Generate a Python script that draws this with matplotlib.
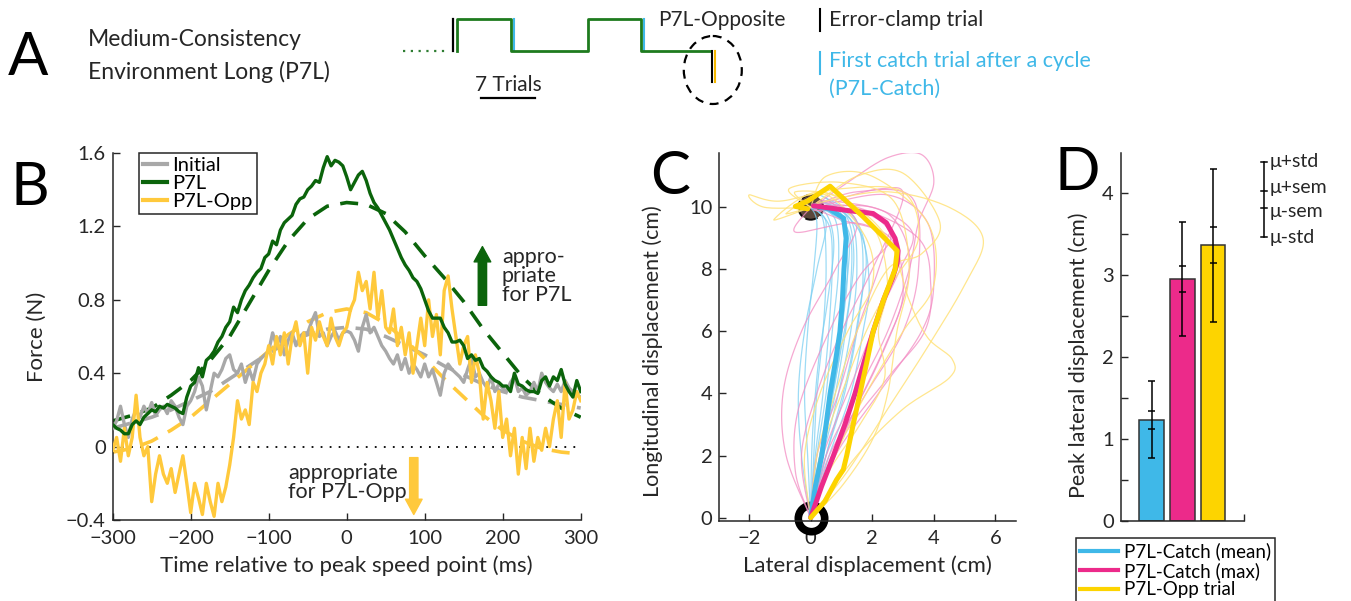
import numpy as np
import matplotlib
matplotlib.use('Agg')
import matplotlib.pyplot as plt
from matplotlib.patches import Ellipse, Circle
from matplotlib.lines import Line2D

plt.rcParams['font.family'] = ['Lato', 'DejaVu Sans']
plt.rcParams['axes.unicode_minus'] = True

# ---------------- DATA ----------------
# Panel B: force traces, 5 ms resolution, -300..300 ms
time_ms = np.arange(-300, 301, 5)
force_initial = [
    0.10, 0.14, 0.22, 0.12, 0.05, 0.15, 0.20, 0.16, 0.22, 0.18,
    0.24, 0.17, 0.20, 0.22, 0.18, 0.25, 0.22, 0.16, 0.12, 0.22,
    0.25, 0.30, 0.38, 0.33, 0.20, 0.30, 0.40, 0.38, 0.42, 0.48,
    0.50, 0.42, 0.40, 0.45, 0.35, 0.42, 0.36, 0.45, 0.48, 0.50,
    0.52, 0.62, 0.55, 0.60, 0.50, 0.58, 0.62, 0.55, 0.60, 0.62,
    0.62, 0.68, 0.73, 0.60, 0.62, 0.55, 0.60, 0.63, 0.58, 0.62,
    0.63, 0.62, 0.58, 0.52, 0.65, 0.72, 0.62, 0.65, 0.60, 0.55,
    0.52, 0.48, 0.45, 0.50, 0.42, 0.48, 0.40, 0.45, 0.42, 0.38,
    0.45, 0.38, 0.42, 0.35, 0.28, 0.40, 0.45, 0.42, 0.40, 0.38,
    0.35, 0.42, 0.48, 0.38, 0.40, 0.35, 0.32, 0.38, 0.30, 0.34,
    0.32, 0.30, 0.35, 0.38, 0.30, 0.32, 0.28, 0.30, 0.35, 0.30,
    0.40, 0.35, 0.32, 0.30, 0.34, 0.30, 0.36, 0.32, 0.30, 0.28,
    0.27]
force_p7l = [
    0.12, 0.10, 0.09, 0.07, 0.07, 0.12, 0.14, 0.12, 0.16, 0.18,
    0.20, 0.19, 0.22, 0.21, 0.23, 0.22, 0.21, 0.19, 0.18, 0.27,
    0.33, 0.35, 0.43, 0.38, 0.47, 0.49, 0.52, 0.57, 0.60, 0.65,
    0.68, 0.76, 0.73, 0.80, 0.85, 0.88, 0.92, 0.95, 0.97, 1.03,
    1.05, 1.12, 1.10, 1.18, 1.22, 1.24, 1.26, 1.32, 1.35, 1.36,
    1.40, 1.42, 1.45, 1.44, 1.52, 1.58, 1.53, 1.56, 1.55, 1.53,
    1.47, 1.40, 1.44, 1.48, 1.50, 1.45, 1.38, 1.33, 1.30, 1.26,
    1.22, 1.18, 1.13, 1.08, 1.03, 0.99, 0.96, 0.92, 0.90, 0.86,
    0.80, 0.74, 0.70, 0.70, 0.70, 0.65, 0.62, 0.57, 0.57, 0.58,
    0.55, 0.48, 0.50, 0.47, 0.48, 0.43, 0.41, 0.38, 0.36, 0.35,
    0.33, 0.33, 0.30, 0.40, 0.34, 0.33, 0.31, 0.30, 0.30, 0.29,
    0.36, 0.38, 0.33, 0.38, 0.36, 0.42, 0.34, 0.30, 0.27, 0.36,
    0.30]
force_opp = [
    -0.02, 0.05, -0.08, 0.10, -0.05, 0.05, 0.28, 0.05, -0.05, 0.00,
    -0.30, -0.15, -0.05, -0.15, -0.20, -0.12, -0.25, -0.15, -0.05, -0.20,
    -0.36, -0.20, -0.28, -0.37, -0.20, -0.30, -0.38, -0.20, -0.30, -0.22,
    -0.10, 0.05, 0.25, 0.15, 0.20, 0.12, 0.35, 0.30, 0.40, 0.45,
    0.55, 0.45, 0.60, 0.50, 0.62, 0.45, 0.60, 0.68, 0.55, 0.62,
    0.40, 0.65, 0.58, 0.68, 0.60, 0.55, 0.70, 0.60, 0.55, 0.62,
    0.65, 0.75, 0.80, 0.95, 0.85, 0.90, 0.75, 0.95, 0.70, 0.85,
    0.65, 0.62, 0.75, 0.55, 0.65, 0.50, 0.62, 0.40, 0.55, 0.70,
    0.55, 0.80, 0.60, 0.72, 0.50, 0.85, 0.93, 0.75, 0.60, 0.45,
    0.55, 0.60, 0.35, 0.50, 0.40, 0.15, 0.35, 0.25, 0.10, 0.30,
    0.05, 0.15, -0.05, 0.10, -0.15, 0.05, -0.12, 0.10, -0.08, 0.05,
    -0.02, 0.10, 0.00, 0.15, 0.25, 0.05, 0.35, 0.15, 0.20, 0.30,
    0.25]
# model fits (dashed), 25 ms resolution
time_fit = np.arange(-300, 301, 25)
fit_initial = [0.10, 0.13, 0.16, 0.20, 0.25, 0.30, 0.37, 0.44, 0.51, 0.57, 0.61, 0.64, 0.65,
               0.64, 0.60, 0.55, 0.50, 0.44, 0.39, 0.34, 0.30, 0.27, 0.25, 0.23, 0.21]
fit_p7l = [0.14, 0.17, 0.21, 0.28, 0.36, 0.47, 0.60, 0.78, 0.96, 1.12, 1.24, 1.31, 1.33,
           1.32, 1.27, 1.17, 1.04, 0.92, 0.79, 0.64, 0.51, 0.38, 0.28, 0.21, 0.16]
fit_opp = [-0.03, -0.01, 0.03, 0.09, 0.16, 0.25, 0.34, 0.43, 0.52, 0.61, 0.68, 0.73, 0.75,
           0.73, 0.67, 0.58, 0.48, 0.37, 0.27, 0.17, 0.09, 0.03, -0.01, -0.03, -0.04]
legend_b = ['Initial', 'P7L', 'P7L-Opp']

# Panel C: hand trajectories (lateral x, longitudinal y) in cm
traj_catch_mean = [(0, 0), (0.15, 1), (0.36, 2), (0.5, 3), (0.63, 4), (0.8, 5), (0.95, 6), (1.03, 7),
                   (1.08, 8), (1.15, 9), (1.07, 9.65), (0.6, 9.95), (0.1, 10.05)]
traj_catch_max = [(0, 0), (0.35, 1), (0.74, 2), (1.11, 3), (1.44, 4), (1.73, 5), (2.03, 6), (2.36, 7),
                  (2.65, 7.7), (2.81, 8.2), (2.84, 8.6), (2.74, 9.0), (2.46, 9.5), (2.03, 9.8),
                  (1.17, 9.9), (0.09, 10.05)]
traj_opp = [(0, 0), (0.46, 0.52), (0.84, 1.22), (1.06, 1.55), (1.17, 2.0), (1.38, 3), (1.6, 4), (1.82, 5),
            (2.03, 6), (2.36, 7), (2.74, 8), (2.81, 8.6), (1.7, 9.7), (0.63, 10.68), (-0.1, 10.2),
            (-0.5, 10.03), (-0.1, 9.95)]
trials_catch = [
    [(0, 0), (-0.1, 2), (-0.2, 4), (-0.1, 6), (0.1, 8), (0.2, 9.5), (0, 10)],
    [(0, 0), (0.1, 2), (0.2, 4), (0.4, 6), (0.5, 8), (0.4, 9.6), (0, 10)],
    [(0, 0), (0.2, 2), (0.5, 4), (0.7, 6), (0.9, 8), (0.8, 9.6), (0.1, 10.1)],
    [(0, 0), (0.3, 2), (0.7, 4), (1.0, 6), (1.2, 8), (1.0, 9.6), (0.2, 10.1)],
    [(0, 0), (0.4, 2), (0.9, 4), (1.3, 6), (1.5, 8), (1.3, 9.6), (0.3, 10.2)],
    [(0, 0), (0.5, 2), (1.1, 4), (1.5, 6), (1.7, 7.8), (1.5, 9.5), (0.4, 10.2)],
    [(0, 0), (0.3, 2), (0.8, 4), (1.2, 6.5), (1.4, 8.5), (1.1, 9.8), (0.2, 10.0)],
    [(0, 0), (-0.3, 2), (-0.4, 4), (-0.2, 6), (0.2, 8), (0.5, 9.5), (0, 10)],
    [(0, 0), (0.6, 2), (1.3, 4), (1.7, 6), (1.9, 7.5), (1.6, 9.2), (0.5, 10.3)],
    [(0, 0), (0.2, 1.5), (0.6, 3.5), (1.0, 5.5), (1.3, 7.5), (1.2, 9.3), (0.1, 10.1)],
    [(0, 0), (0.45, 2.5), (0.9, 5), (1.1, 7), (1.25, 8.8), (0.9, 9.9), (0.0, 10.0)],
    [(0, 0), (0.05, 2.5), (0.25, 5), (0.55, 7), (0.75, 8.8), (0.5, 9.8), (0.0, 10.0)],
    [(0, 0), (0.55, 2.2), (1.2, 4.6), (1.6, 6.8), (1.8, 8.4), (1.4, 9.7), (0.3, 10.4)],
    [(0, 0), (0.15, 2.0), (0.4, 4.0), (0.6, 6.2), (0.7, 8.2), (0.6, 9.4), (0.1, 10.0)],
]
trials_catch_max = [
    [(0, 0), (-0.8, 2), (-0.9, 4), (-0.3, 6), (0.8, 8), (1.5, 9.5), (0.5, 10.2), (0, 10)],
    [(0, 0), (0.3, 1), (1.2, 3), (2.2, 5), (3.0, 7), (3.2, 8.5), (2.5, 9.8), (0.8, 10.2)],
    [(0, 0), (0.6, 2), (1.8, 4), (3.0, 6), (3.5, 8), (3.3, 10.3), (1.5, 10.5), (0, 10)],
    [(0, 0), (0.8, 2), (2.2, 4), (3.6, 6), (4.0, 7.5), (3.8, 9.5), (2.5, 10.4), (0.5, 10.1)],
    [(0, 0), (0.5, 2), (1.5, 4), (2.5, 6), (3.2, 8), (3.5, 9.5), (4.0, 10.8), (3.6, 11.7), (2.5, 11.6),
     (1.2, 10.8), (0.2, 10.1)],
    [(0, 0), (0.2, 2), (0.9, 4), (1.5, 6), (2.2, 8), (2.4, 9.0), (1.4, 9.5), (-0.5, 9.2), (0, 10)],
    [(0, 0), (1.0, 2.5), (2.5, 4.5), (3.7, 6), (3.9, 7.5), (3.5, 9.0), (1.5, 10.0), (0, 10)],
    [(0, 0), (-0.3, 2), (0.2, 4), (1.0, 6), (2.0, 8), (3.0, 10.3), (2.3, 10.6), (0.3, 10.1)],
    [(0, 0), (-0.5, 1.5), (-0.4, 3.5), (0.6, 6), (1.6, 7.8), (2.6, 9.0), (1.8, 9.8), (0.1, 9.9)],
    [(0, 0), (0.4, 2), (1.4, 4.5), (2.2, 6.5), (2.9, 8.0), (3.3, 9.2), (2.0, 10.0), (0.2, 10.0)],
    [(0, 0), (0.7, 1.8), (1.6, 3.8), (2.4, 5.5), (3.0, 7.2), (2.6, 9.0), (1.0, 9.6), (0.0, 10.0)],
]
trials_opp = [
    [(0, 0), (1.2, 1.5), (2.5, 3.5), (3.8, 5.5), (5.0, 7.5), (5.6, 9.0), (4.5, 10.0), (2.5, 10.5),
     (0.5, 10.2), (0, 10)],
    [(0, 0), (1.5, 2), (3.0, 3.5), (4.5, 4.5), (4.6, 5.1), (3.8, 5.8), (3.2, 7), (2.5, 9), (1.0, 10.3),
     (-0.5, 10.5), (0, 10)],
    [(0, 0), (0.8, 2), (1.8, 4), (3.0, 6), (4.0, 7.5), (3.8, 9.5), (2.0, 11.0), (0.5, 11.0), (0, 10)],
    [(0, 0), (0.3, 2), (1.0, 4), (1.8, 6), (2.6, 7.5), (3.5, 9.0), (3.0, 10.5), (1.0, 10.6), (-1.0, 10.2),
     (-2.0, 10.4), (-1.5, 10.0), (0, 10)],
    [(0, 0), (0.2, 2), (0.8, 4), (1.5, 6), (2.5, 8), (3.6, 8.5), (4.2, 9.5), (3.0, 11.1), (1.5, 11.0),
     (0, 10)],
    [(0, 0), (-0.2, 2), (0.3, 4), (1.2, 6), (2.0, 7.5), (1.8, 9.0), (0.5, 10.4), (-0.8, 9.8), (0, 10)],
    [(0, 0), (1.0, 1.0), (2.0, 2.5), (2.5, 4), (2.8, 6), (3.2, 8), (2.7, 10.2), (1.0, 10.8), (-0.7, 10.6),
     (0.0, 10.0)],
    [(0, 0), (0.6, 1.5), (1.6, 3.0), (2.4, 4.5), (2.2, 6.0), (2.5, 7.5), (2.0, 9.4), (0.3, 10.5),
     (-1.2, 9.6), (0, 10)],
]

# Panel D: peak lateral displacement
bar_labels = ['P7L-Catch (mean)', 'P7L-Catch (max)', 'P7L-Opp trial']
bar_means = [1.23, 2.95, 3.36]
bar_sem_lo = [1.12, 2.79, 3.14]
bar_sem_hi = [1.34, 3.11, 3.58]
bar_std_lo = [0.77, 2.25, 2.43]
bar_std_hi = [1.70, 3.64, 4.29]

# Panel A: trial schedule (blocks: length in trials, field level)
block_lengths = [7, 10, 7, 9]
block_levels = [1, 0, 1, 0]

# ---------------- STYLE ----------------
C_GRAY = '#A8A8A8'
C_GREEN = '#0B640B'
C_YEL = '#FFC93C'
C_CYAN = '#3FB8E8'
C_MAG = '#EC2A8A'
C_YEL2 = '#FDD400'
TXT = '#262626'
FS_TICK = 14.5
FS_LAB = 16
FS_ANN = 15.5

W, H = 1351, 601
fig = plt.figure(figsize=(W / 100, H / 100), dpi=100)


def fax(l, b, r, t):
    return fig.add_axes([l / W, 1 - b / H, (r - l) / W, (b - t) / H])


def style_axes(ax):
    for s in ['top', 'right']:
        ax.spines[s].set_visible(False)
    for s in ['left', 'bottom']:
        ax.spines[s].set_color('#262626')
        ax.spines[s].set_linewidth(1.1)
    ax.tick_params(direction='in', length=5, width=1, labelsize=FS_TICK, colors=TXT)
    ax.tick_params(axis='x', pad=7)
    ax.tick_params(axis='y', pad=5)


def smooth(pts, n=16):
    P = np.array(pts, float)
    P = np.vstack([P[0], P, P[-1]])
    out = []
    t = np.linspace(0, 1, n, endpoint=False)[:, None]
    for i in range(1, len(P) - 2):
        p0, p1, p2, p3 = P[i - 1], P[i], P[i + 1], P[i + 2]
        out.append(0.5 * ((2 * p1) + (-p0 + p2) * t + (2 * p0 - 5 * p1 + 4 * p2 - p3) * t ** 2
                          + (-p0 + 3 * p1 - 3 * p2 + p3) * t ** 3))
    out.append(P[-2][None, :])
    return np.vstack(out)


# ---------------- PANEL B ----------------
axB = fax(112.7, 520, 580.7, 153)
style_axes(axB)
axB.set_xlim(-300, 300)
axB.set_ylim(-0.4, 1.6)
axB.set_xticks([-300, -200, -100, 0, 100, 200, 300])
axB.set_yticks([-0.4, 0, 0.4, 0.8, 1.2, 1.6])
axB.set_yticklabels(['\u22120.4', '0', '0.4', '0.8', '1.2', '1.6'])
axB.set_xticklabels(['\u2212300', '\u2212200', '\u2212100', '0', '100', '200', '300'])
axB.axhline(0, color='k', lw=1.3, ls=(0, (1, 4)), zorder=1)
dash = (0, (5, 3.2))
axB.plot(time_fit, fit_initial, color=C_GRAY, lw=2.6, ls=dash, zorder=2)
axB.plot(time_ms, force_initial, color=C_GRAY, lw=2.4, zorder=3)
axB.plot(time_fit, fit_opp, color=C_YEL, lw=2.6, ls=dash, zorder=2)
axB.plot(time_ms, force_opp, color=C_YEL, lw=2.4, zorder=4)
axB.plot(time_fit, fit_p7l, color=C_GREEN, lw=2.6, ls=dash, zorder=2)
axB.plot(time_ms, force_p7l, color=C_GREEN, lw=2.4, zorder=5)
axB.set_xlabel('Time relative to peak speed point (ms)', fontsize=FS_LAB, color=TXT, labelpad=6)
axB.set_ylabel('Force (N)', fontsize=FS_LAB, color=TXT, labelpad=14)
hB = [Line2D([], [], color=c, lw=3) for c in (C_GRAY, C_GREEN, C_YEL)]
lgB = axB.legend(hB, legend_b, loc='upper left', bbox_to_anchor=(0.056, 1.0), borderaxespad=0,
                 fancybox=False, edgecolor='#262626', fontsize=FS_TICK, handlelength=1.2,
                 handletextpad=0.25, labelspacing=0.05, borderpad=0.2, framealpha=1)
lgB.get_frame().set_linewidth(1.1)
axB.annotate('', xy=(174, 1.09), xytext=(174, 0.77),
             arrowprops=dict(arrowstyle='simple,head_width=0.6,head_length=0.55,tail_width=0.3',
                             color=C_GREEN, mutation_scale=20, shrinkA=0, shrinkB=0))
axB.text(199, 0.93, 'appro-\npriate\nfor P7L', fontsize=FS_ANN, color=TXT, ha='left', va='center',
         linespacing=0.95)
axB.annotate('', xy=(86, -0.37), xytext=(86, -0.06),
             arrowprops=dict(arrowstyle='simple,head_width=0.6,head_length=0.55,tail_width=0.3',
                             color=C_YEL, mutation_scale=20, shrinkA=0, shrinkB=0))
axB.text(-75, -0.195, 'appropriate\nfor P7L-Opp', fontsize=FS_ANN, color=TXT, ha='left', va='center',
         linespacing=0.95)

# ---------------- PANEL C ----------------
axC = fax(719.3, 520.7, 1016, 152.7)
style_axes(axC)
axC.set_xlim(-2.97, 6.67)
axC.set_ylim(-0.1, 11.76)
axC.set_xticks([-2, 0, 2, 4, 6])
axC.set_yticks([0, 2, 4, 6, 8, 10])
axC.set_xticklabels(['\u22122', '0', '2', '4', '6'])
axC.set_xlabel('Lateral displacement (cm)', fontsize=FS_LAB, color=TXT, labelpad=6)
axC.set_ylabel('Longitudinal displacement (cm)', fontsize=15.5, color=TXT, labelpad=8)
axC.yaxis.set_label_coords(-0.19, 0.46)
axC.plot([0], [0], 'o', ms=19, mfc='none', mec='k', mew=5.5, zorder=2, clip_on=False)
axC.add_patch(Circle((0, 10), 0.4, facecolor='#4a3326', edgecolor='k', ls='--', lw=1.4,
                     alpha=0.9, zorder=2))
for tr in trials_catch:
    s = smooth(tr)
    axC.plot(s[:, 0], s[:, 1], color='#7CCFF2', lw=0.9, alpha=0.75, zorder=3)
for tr in trials_catch_max:
    s = smooth(tr)
    axC.plot(s[:, 0], s[:, 1], color='#F38CC3', lw=0.9, alpha=0.75, zorder=3)
for tr in trials_opp:
    s = smooth(tr)
    axC.plot(s[:, 0], s[:, 1], color='#FFE27A', lw=0.9, alpha=0.85, zorder=3)
for tr, c in ((traj_catch_mean, C_CYAN), (traj_catch_max, C_MAG), (traj_opp, C_YEL2)):
    a = np.array(tr)
    axC.plot(a[:, 0], a[:, 1], color=c, lw=3.6, zorder=5, solid_joinstyle='round',
             solid_capstyle='round')

# ---------------- PANEL D ----------------
axD = fax(1120.7, 520.7, 1244, 152.7)
style_axes(axD)
axD.set_xlim(0, 4)
axD.set_ylim(0, 4.49)
axD.set_yticks([0, 1, 2, 3, 4])
axD.set_yticks([0.5, 1.5, 2.5, 3.5], minor=True)
axD.tick_params(which='minor', direction='in', length=5, width=1, colors=TXT)
axD.set_xticks([4])
axD.set_xticklabels([''])
xs = [1, 2, 3]
for x, m, c in zip(xs, bar_means, (C_CYAN, C_MAG, C_YEL2)):
    axD.bar(x, m, width=0.79, color=c, edgecolor='#333333', lw=1.1, zorder=2)
axD.vlines(xs, bar_std_lo, bar_std_hi, color='k', lw=1.1, zorder=4)
axD.hlines(bar_std_lo + bar_std_hi, [x - 0.11 for x in xs * 2], [x + 0.11 for x in xs * 2],
           color='k', lw=1.1, zorder=4)
axD.hlines(bar_sem_lo + bar_sem_hi, [x - 0.11 for x in xs * 2], [x + 0.11 for x in xs * 2],
           color='k', lw=1.1, zorder=4)
axD.set_ylabel('Peak lateral displacement (cm)', fontsize=15.5, color=TXT, labelpad=10)
axD.yaxis.set_label_coords(-0.26, 0.45)
hD = [Line2D([], [], color=c, lw=3) for c in (C_CYAN, C_MAG, C_YEL2)]
lgD = axD.legend(hD, bar_labels, loc='upper left', bbox_to_anchor=(1075.7 / W, 1 - 538 / H),
                 bbox_transform=fig.transFigure, borderaxespad=0, fancybox=False,
                 edgecolor='#262626', fontsize=13.5, handlelength=2.0, handletextpad=0.3,
                 labelspacing=0.08, borderpad=0.25, framealpha=1)
lgD.get_frame().set_linewidth(1.1)

# ---------------- OVERLAY (panel A, letters, key) ----------------
axO = fig.add_axes([0, 0, 1, 1], zorder=-1)
axO.set_xlim(0, W)
axO.set_ylim(H, 0)
axO.axis('off')

for lab, x, y in (('A', 8, 75), ('B', 10, 205), ('C', 650, 194), ('D', 1055, 190)):
    axO.text(x, y, lab, fontsize=43, color='k', va='baseline', ha='left')

axO.text(88, 39, 'Medium-Consistency', fontsize=16.5, color=TXT, va='center')
axO.text(88, 72, 'Environment Long (P7L)', fontsize=16.5, color=TXT, va='center')

# schedule
trial_px = 7.7
x0, y_hi, y_lo = 456.7, 18.5, 50.5
axO.plot([403, 449], [y_lo, y_lo], color='#2E7D32', lw=1.6, ls=(0, (1, 2.5)))
axO.plot([453, 453], [y_lo, y_hi], color='k', lw=1.6)
xcur = x0
xs_path, ys_path = [x0], [y_lo]
for L, lv in zip(block_lengths, block_levels):
    y = y_hi if lv else y_lo
    xs_path += [xcur, xcur + L * trial_px]
    ys_path += [y, y]
    xcur += L * trial_px
    if lv:
        axO.plot([xcur + 3, xcur + 3], [y_hi, y_lo], color=C_CYAN, lw=1.5)
axO.plot(xs_path, ys_path, color='#1E7B1E', lw=2)
axO.plot([xcur + 1.5, xcur + 1.5], [y_lo, 82], color='k', lw=1.5)
axO.plot([xcur + 4, xcur + 4], [y_lo, 82], color='#F5B800', lw=1.5)
axO.add_patch(Ellipse((xcur + 2, 70), 58, 68, fill=False, ec='k', lw=1.6, ls=(0, (4, 3))))
axO.text(508, 85, '7 Trials', fontsize=15, color=TXT, ha='center', va='center')
axO.plot([508 - 3.5 * trial_px, 508 + 3.5 * trial_px], [98, 98], color='k', lw=1.6)
axO.text(658, 20, 'P7L-Opposite', fontsize=15, color=TXT, ha='left', va='center')
axO.plot([820, 820], [9, 31], color='k', lw=1.5)
axO.text(829, 20, 'Error-clamp trial', fontsize=15.5, color=TXT, ha='left', va='center')
axO.plot([820, 820], [52, 74], color=C_CYAN, lw=1.5)
axO.text(829, 61, 'First catch trial after a cycle', fontsize=15.5, color=C_CYAN, ha='left',
         va='center')
axO.text(829, 89, '(P7L-Catch)', fontsize=15.5, color=C_CYAN, ha='left', va='center')

# mean/sem/std key
key_y = [162, 191, 208, 237]
key_text_y = [162, 187, 212, 237]
key_lab = ['\u03bc+std', '\u03bc+sem', '\u03bc-sem', '\u03bc-std']
axO.plot([1264, 1264], [key_y[0], key_y[-1]], color='k', lw=1.1)
for yk, yt, lk in zip(key_y, key_text_y, key_lab):
    axO.plot([1261, 1267], [yk, yk], color='k', lw=1.1)
    axO.text(1270, yt, lk, fontsize=14, color=TXT, ha='left', va='center')

fig.savefig('out.png', dpi=100)
